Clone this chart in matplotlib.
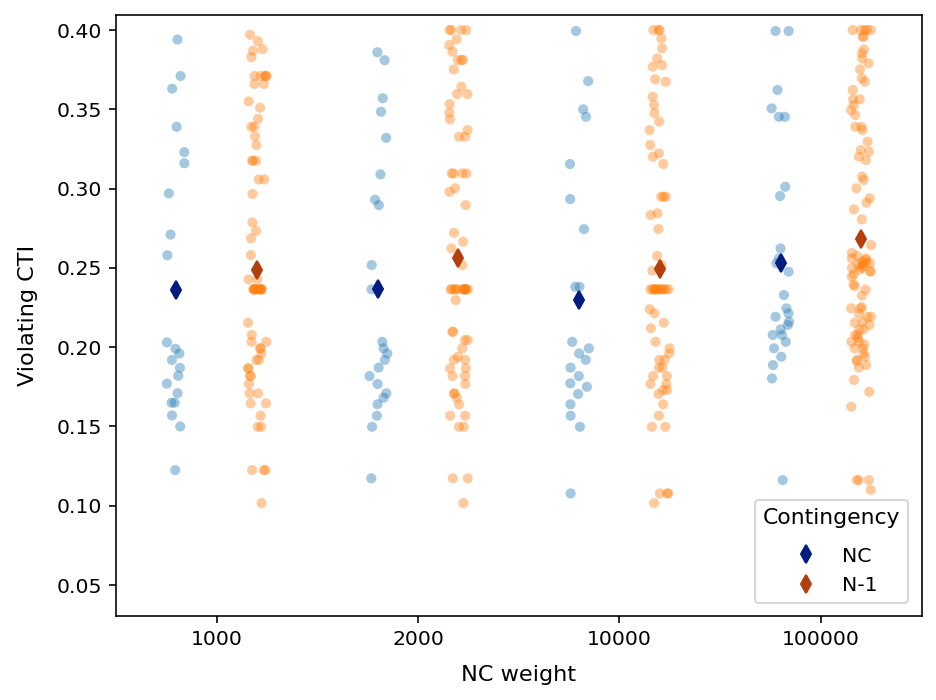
import numpy as np
import pandas as pd
import matplotlib
matplotlib.use("Agg")
import matplotlib.pyplot as plt
from matplotlib.ticker import MultipleLocator
import seaborn as sns

# categorias do eixo x e do hue
weights = ["1000", "2000", "10000", "100000"]
contingencies = ["NC", "N-1"]

# valores (Violating CTI)
nc_1000 = [0.394, 0.371, 0.363, 0.339, 0.323, 0.316, 0.297, 0.271, 0.258, 0.2365,
           0.203, 0.199, 0.196, 0.192, 0.187, 0.182, 0.177, 0.171, 0.165, 0.165,
           0.157, 0.150, 0.1225]
n1_1000 = [0.397, 0.393, 0.388, 0.387, 0.383, 0.371, 0.371, 0.371, 0.371, 0.371,
           0.366, 0.366, 0.355, 0.351, 0.344, 0.339, 0.339, 0.333, 0.3275, 0.3176,
           0.3176, 0.3176, 0.3058, 0.3058, 0.2966, 0.2787, 0.2734, 0.2686, 0.2581, 0.2428,
           0.2428, 0.2365, 0.2365, 0.2365, 0.2365, 0.2365, 0.2365, 0.2365, 0.2365, 0.2365,
           0.2365, 0.2365, 0.2365, 0.2154, 0.2077, 0.2034, 0.2034, 0.1993, 0.1993, 0.196,
           0.192, 0.192, 0.1867, 0.1867, 0.1818, 0.1818, 0.1768, 0.1709, 0.1709, 0.1646,
           0.1646, 0.1568, 0.1498, 0.1498, 0.1225, 0.1225, 0.1225, 0.1017]

nc_2000 = [0.386, 0.381, 0.357, 0.3485, 0.332, 0.309, 0.293, 0.2896, 0.2518, 0.2365,
           0.2034, 0.1993, 0.196, 0.192, 0.1871, 0.1818, 0.1768, 0.1709, 0.1681, 0.164,
           0.1568, 0.1498, 0.1173]
n1_2000 = [0.400, 0.400, 0.400, 0.400, 0.3941, 0.3905, 0.3863, 0.3811, 0.3811, 0.3811,
           0.3752, 0.3643, 0.3596, 0.3596, 0.3533, 0.3478, 0.3437, 0.3369, 0.3327, 0.3327,
           0.3096, 0.3096, 0.3096, 0.3096, 0.3002, 0.298, 0.2896, 0.2722, 0.2665, 0.2623,
           0.2518, 0.2365, 0.2365, 0.2365, 0.2365, 0.2365, 0.2365, 0.2365, 0.2365, 0.2365,
           0.2365, 0.2365, 0.2365, 0.2297, 0.2097, 0.2097, 0.2045, 0.2045, 0.1993, 0.194,
           0.192, 0.192, 0.1867, 0.1867, 0.1818, 0.1818, 0.1768, 0.1709, 0.1709, 0.1681,
           0.164, 0.1568, 0.1568, 0.1498, 0.1498, 0.1173, 0.1173, 0.1017]

nc_10000 = [0.3994, 0.3678, 0.350, 0.3453, 0.3155, 0.2934, 0.2745, 0.2381, 0.2381, 0.2034,
            0.1993, 0.196, 0.192, 0.1871, 0.1818, 0.1772, 0.175, 0.1705, 0.164, 0.1568,
            0.1498, 0.1078]
n1_10000 = [0.400, 0.400, 0.400, 0.3947, 0.3885, 0.3821, 0.3779, 0.3769, 0.3689, 0.3674,
            0.358, 0.3527, 0.3475, 0.3422, 0.3369, 0.3275, 0.3222, 0.3201, 0.3155, 0.2949,
            0.2949, 0.2949, 0.2844, 0.2833, 0.2745, 0.2575, 0.2518, 0.2482, 0.2365, 0.2365,
            0.2365, 0.2365, 0.2365, 0.2365, 0.2365, 0.2365, 0.2365, 0.2365, 0.2365, 0.2365,
            0.2239, 0.2213, 0.2154, 0.2119, 0.2034, 0.1993, 0.196, 0.192, 0.192, 0.1871,
            0.1871, 0.1818, 0.1818, 0.1768, 0.1768, 0.173, 0.173, 0.1705, 0.164, 0.1568,
            0.1498, 0.1498, 0.1078, 0.1078, 0.1078, 0.1017]

nc_100000 = [0.3994, 0.3994, 0.3622, 0.3506, 0.3453, 0.3453, 0.3012, 0.2953, 0.2623, 0.256,
             0.2529, 0.2476, 0.2329, 0.2245, 0.2213, 0.2192, 0.216, 0.214, 0.2112, 0.2077,
             0.2077, 0.2034, 0.1993, 0.194, 0.1887, 0.1803, 0.1162]
n1_100000 = [0.400, 0.400, 0.400, 0.400, 0.400, 0.3958, 0.3958, 0.3878, 0.3853, 0.3821,
             0.379, 0.3752, 0.3695, 0.3674, 0.3622, 0.3563, 0.3563, 0.3527, 0.3495, 0.3464,
             0.339, 0.339, 0.3369, 0.3296, 0.3243, 0.3233, 0.3201, 0.318, 0.3075, 0.3054,
             0.3002, 0.2939, 0.2911, 0.2869, 0.2806, 0.2644, 0.2594, 0.2575, 0.256, 0.256,
             0.255, 0.254, 0.253, 0.253, 0.253, 0.252, 0.251, 0.250, 0.250, 0.249,
             0.248, 0.2476, 0.246, 0.2445, 0.2395, 0.2385, 0.2363, 0.2325, 0.2253, 0.2245,
             0.2245, 0.2213, 0.2192, 0.2192, 0.216, 0.2154, 0.214, 0.2112, 0.2112, 0.2077,
             0.2077, 0.2058, 0.2034, 0.2034, 0.2018, 0.1993, 0.1993, 0.196, 0.194, 0.192,
             0.1912, 0.1887, 0.1871, 0.1793, 0.1719, 0.1625, 0.1162, 0.1162, 0.1162, 0.110]

# medias (losangos)
mean_nc = [0.2363, 0.2367, 0.2297, 0.2533]
mean_n1 = [0.2487, 0.2560, 0.2490, 0.2680]

# montando tabela longa para o seaborn
linhas = []
for w, nc, n1 in zip(weights, [nc_1000, nc_2000, nc_10000, nc_100000],
                     [n1_1000, n1_2000, n1_10000, n1_100000]):
    linhas += [(w, "NC", v) for v in nc]
    linhas += [(w, "N-1", v) for v in n1]
df = pd.DataFrame(linhas, columns=["NC weight", "Contingency", "Violating CTI"])

fig = plt.figure(figsize=(936 / 146.25, 700 / 146.25), dpi=146.25)
ax = fig.add_axes([116 / 936, 1 - 616 / 700, (921.5 - 116) / 936, (616 - 14.5) / 700])

np.random.seed(3)
sns.stripplot(data=df, x="NC weight", y="Violating CTI", hue="Contingency",
              order=weights, hue_order=contingencies, dodge=True, jitter=True,
              alpha=0.4, size=5, palette=["#1f77b4", "#ff7f0e"], legend=False, ax=ax)

# losangos das medias
cores_escuras = ["#001c7f", "#b1400d"]
pos = np.arange(len(weights))
for desloc, medias, cor, nome in zip([-0.2, 0.2], [mean_nc, mean_n1], cores_escuras, contingencies):
    ax.plot(pos + desloc, medias, linestyle="none", marker="d", ms=6.2, mew=1.0,
            color=cor, label=nome, zorder=5)

ax.set_xlim(-0.5, 3.5)
ax.set_ylim(0.0305, 0.4098)
ax.yaxis.set_major_locator(MultipleLocator(0.05))
ax.yaxis.set_major_formatter(plt.FormatStrFormatter("%.2f"))
ax.set_xlabel("NC weight", fontsize=11, labelpad=8)
ax.set_ylabel("Violating CTI", fontsize=11, labelpad=9)

leg = ax.legend(title="Contingency", loc="lower right", title_fontsize=10.8,
                borderaxespad=0.65)
leg._legend_box.sep = 9

fig.savefig("out.png", dpi=146.25)
